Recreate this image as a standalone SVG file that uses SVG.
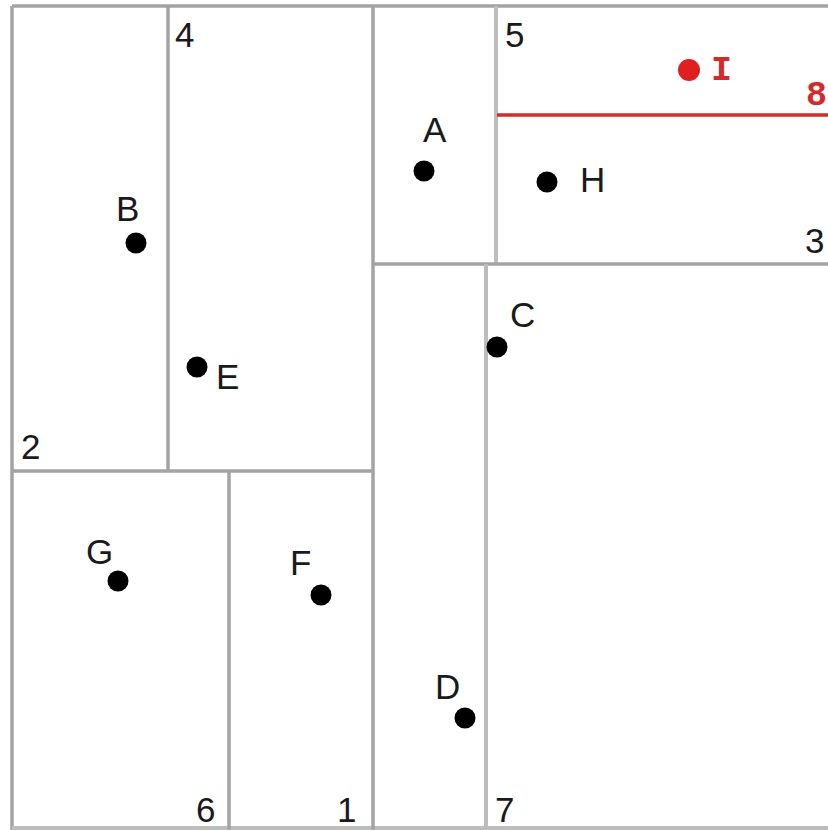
<svg xmlns="http://www.w3.org/2000/svg" width="828" height="830" viewBox="0 0 828 830">
<style>
.ln{stroke:#a3a3a3;stroke-width:3.5;fill:none}
.lt{stroke:#bdbdbd;stroke-width:4;fill:none}
.red{stroke:#d42a2a;stroke-width:3.5;fill:none}
.pt{fill:#000}
.lb{font-family:"Liberation Sans",Arial,sans-serif;font-size:35px;fill:#1a1a1a}
.rl{font-family:"Liberation Mono","Courier New",monospace;font-size:35px;font-weight:bold;fill:#d42a2a}
</style>
<rect width="828" height="830" fill="#fff"/>
<g id="partition">
<line class="ln" x1="12" y1="6" x2="828" y2="6"/>
<line class="ln" x1="12" y1="6" x2="12" y2="830"/>
<line class="lt" x1="12" y1="828" x2="828" y2="828"/>
<line class="ln" x1="168" y1="6" x2="168" y2="471"/>
<line class="ln" x1="373" y1="6" x2="373" y2="830"/>
<line class="ln" x1="12" y1="471" x2="373" y2="471"/>
<line class="ln" x1="229" y1="471" x2="229" y2="830"/>
<line class="lt" x1="496" y1="6" x2="496" y2="264"/>
<line class="ln" x1="373" y1="264" x2="828" y2="264"/>
<line class="lt" x1="486" y1="264" x2="486" y2="830"/>
<line class="red" x1="497" y1="115" x2="828" y2="115"/>
</g>
<g id="region-labels">
<text class="lb" x="175" y="47">4</text>
<text class="lb" x="505" y="47">5</text>
<text class="lb" x="805" y="253">3</text>
<text class="lb" x="21" y="459">2</text>
<text class="lb" x="196" y="822">6</text>
<text class="lb" x="337" y="822">1</text>
<text class="lb" x="495" y="822">7</text>
<text class="rl" x="806" y="105">8</text>
</g>
<g id="node-A"><circle class="pt" cx="424" cy="171" r="10.5"/><text class="lb" x="423" y="142">A</text></g>
<g id="node-B"><circle class="pt" cx="136" cy="243" r="10.5"/><text class="lb" x="116" y="221">B</text></g>
<g id="node-C"><circle class="pt" cx="497" cy="347" r="10.5"/><text class="lb" x="510" y="327">C</text></g>
<g id="node-D"><circle class="pt" cx="465" cy="718" r="10.5"/><text class="lb" x="435" y="699">D</text></g>
<g id="node-E"><circle class="pt" cx="197" cy="367" r="10.5"/><text class="lb" x="216" y="389">E</text></g>
<g id="node-F"><circle class="pt" cx="321" cy="595" r="10.5"/><text class="lb" x="290" y="575">F</text></g>
<g id="node-G"><circle class="pt" cx="118" cy="581" r="10.5"/><text class="lb" x="86" y="564">G</text></g>
<g id="node-H"><circle class="pt" cx="547" cy="182" r="10.5"/><text class="lb" x="580" y="192">H</text></g>
<g id="node-I"><circle cx="689" cy="70" r="11" fill="#e02020"/><text class="rl" x="711" y="80">I</text></g>
</svg>
